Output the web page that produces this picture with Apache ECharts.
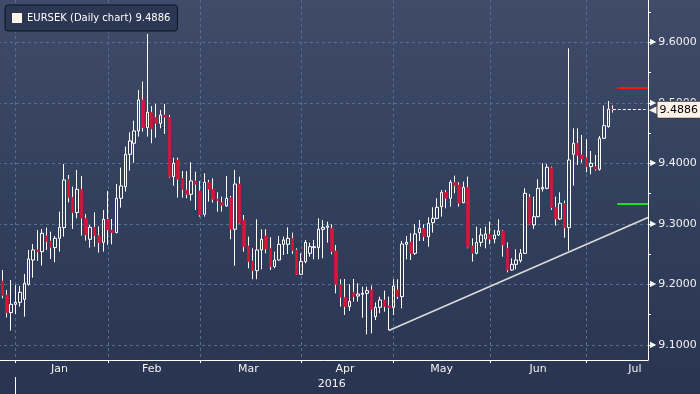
<!DOCTYPE html>
<html><head><meta charset="utf-8">
<script src="https://cdn.jsdelivr.net/npm/echarts@6/dist/echarts.min.js"></script>
<style>html,body{margin:0;padding:0;background:#34405d;}#c{width:700px;height:394px;}</style>
</head><body><div id="c"></div>
<script>
// ---- data ----
const startDate = [2015, 11, 28];      // first category (weekday list)
const numCategories = 149;
const firstCandleIdx = 1;
const seriesName = 'EURSEK';
const legendSuffix = ' (Daily chart) ';

const opens = [9.2055,9.1824,9.1532,9.1669,9.1702,9.1752,9.1999,9.2402,9.2567,9.2540,
9.2799,9.2716,9.2606,9.2760,9.2937,9.3736,9.3438,9.3185,9.3570,9.3091,
9.2744,9.2942,9.2804,9.2694,9.3074,9.2898,9.2854,9.3422,9.3614,9.4149,
9.4331,9.4535,9.5047,9.4590,9.4843,9.4760,9.4661,9.4799,9.4760,9.3780,
9.4055,9.3752,9.3559,9.3488,9.3708,9.3543,9.3157,9.3686,9.3570,9.3411,
9.3350,9.3295,9.3432,9.2909,9.3658,9.3063,9.2634,9.2386,9.2226,9.2567,
9.2799,9.2595,9.2292,9.2402,9.2661,9.2661,9.2760,9.2567,9.2165,9.2375,
9.2512,9.2606,9.2606,9.2909,9.2942,9.2926,9.2551,9.1998,9.1785,9.1631,
9.1868,9.1807,9.1835,9.1851,9.1906,9.1465,9.1620,9.1741,9.1642,9.1620,
9.1906,9.1796,9.2661,9.2700,9.2512,9.2854,9.2926,9.2788,9.3019,9.3091,
9.3284,9.3521,9.3422,9.3686,9.3642,9.3350,9.3603,9.2634,9.2512,9.2694,
9.2749,9.2832,9.2749,9.2815,9.2882,9.2595,9.2237,9.2330,9.2391,9.2512,
9.3438,9.2981,9.3118,9.3576,9.3587,9.3928,9.3273,9.3080,9.3339,9.2937,
9.4149,9.4331,9.4138,9.4094,9.3945,9.3945,9.3901,9.4413,9.4606,9.4895];
const closes = [9.1813,9.1532,9.1669,9.1702,9.1868,9.2016,9.2419,9.2567,9.2540,9.2843,
9.2705,9.2606,9.2760,9.2942,9.3725,9.3433,9.3185,9.3570,9.3091,9.2816,
9.2942,9.2804,9.2689,9.3074,9.2898,9.2854,9.3422,9.3625,9.4149,9.4369,
9.4535,9.5047,9.4590,9.4843,9.4568,9.4661,9.4799,9.4760,9.3780,9.4000,
9.3736,9.3570,9.3488,9.3708,9.3653,9.3146,9.3686,9.3570,9.3405,9.3383,
9.3306,9.3421,9.2909,9.3658,9.3008,9.2622,9.2375,9.2226,9.2567,9.2744,
9.2584,9.2292,9.2402,9.2661,9.2733,9.2760,9.2556,9.2165,9.2375,9.2694,
9.2622,9.2622,9.2909,9.2942,9.2964,9.2540,9.1998,9.1785,9.1631,9.1719,
9.1796,9.1840,9.1851,9.1895,9.1587,9.1620,9.1741,9.1631,9.1620,9.1972,
9.1796,9.2667,9.2694,9.2512,9.2832,9.2926,9.2788,9.3008,9.3091,9.3273,
9.3521,9.3422,9.3686,9.3631,9.3339,9.3603,9.2612,9.2512,9.2694,9.2815,
9.2832,9.2749,9.2815,9.2882,9.2650,9.2237,9.2330,9.2402,9.2512,9.3504,
9.2992,9.3118,9.3587,9.3603,9.3934,9.3267,9.3080,9.3339,9.2937,9.4055,
9.4331,9.4127,9.4072,9.3945,9.4000,9.3901,9.4413,9.4623,9.4895,9.4886];
const lows = [9.1768,9.1454,9.1234,9.1509,9.1631,9.1465,9.1978,9.2110,9.2386,9.2308,
9.2567,9.2419,9.2364,9.2540,9.2788,9.3355,9.2915,9.3091,9.2804,9.2722,
9.2606,9.2623,9.2523,9.2540,9.2650,9.2661,9.2843,9.3267,9.3532,9.3879,
9.4011,9.4441,9.4523,9.4441,9.4331,9.4424,9.4579,9.4485,9.3764,9.3631,
9.3433,9.3433,9.3422,9.3383,9.3229,9.3118,9.3118,9.3366,9.3350,9.3201,
9.3201,9.3284,9.2744,9.2308,9.2997,9.2540,9.2264,9.2083,9.2083,9.2248,
9.2512,9.2237,9.2264,9.2391,9.2485,9.2501,9.2501,9.2154,9.2154,9.2347,
9.2457,9.2413,9.2413,9.2430,9.2689,9.2496,9.1851,9.1631,9.1493,9.1559,
9.1713,9.1713,9.1449,9.1173,9.1190,9.1410,9.1521,9.1548,9.1240,9.1493,
9.1758,9.1603,9.2413,9.2402,9.2485,9.2716,9.2716,9.2622,9.2854,9.3074,
9.3118,9.3256,9.3284,9.3504,9.3284,9.3339,9.2595,9.2375,9.2496,9.2623,
9.2595,9.2661,9.2678,9.2799,9.2457,9.2198,9.2226,9.2248,9.2358,9.2501,
9.2981,9.2915,9.3107,9.3532,9.3570,9.3229,9.2970,9.3063,9.2771,9.2556,
9.3631,9.3973,9.4011,9.3851,9.3818,9.3879,9.3879,9.4402,9.4590,9.4838];
const highs = [9.2237,9.1906,9.2071,9.1989,9.1972,9.2171,9.2567,9.2667,9.2898,9.2915,
9.2937,9.2870,9.2799,9.3201,9.3989,9.3807,9.3614,9.3890,9.3791,9.3162,
9.2981,9.3190,9.2958,9.3229,9.3543,9.3080,9.3659,9.3928,9.4276,9.4512,
9.4705,9.5212,9.5350,9.6138,9.4948,9.4981,9.4882,9.4981,9.4799,9.4094,
9.4094,9.3873,9.3873,9.4017,9.3862,9.3708,9.3835,9.3725,9.3752,9.3521,
9.3449,9.3791,9.3460,9.3890,9.3780,9.3146,9.2788,9.2595,9.3074,9.2909,
9.2909,9.2777,9.2540,9.2799,9.2788,9.2942,9.2854,9.2595,9.2512,9.2733,
9.2689,9.2733,9.3091,9.3063,9.3036,9.2992,9.2650,9.2083,9.2088,9.2000,
9.2088,9.2016,9.1961,9.1961,9.1978,9.1702,9.1796,9.1895,9.1796,9.2083,
9.2083,9.2716,9.2799,9.2843,9.2992,9.3063,9.2992,9.3107,9.3273,9.3422,
9.3559,9.3559,9.3725,9.3796,9.3686,9.3697,9.3780,9.2760,9.2953,9.2926,
9.2953,9.3036,9.2898,9.3074,9.2898,9.2694,9.2430,9.2578,9.2584,9.3587,
9.3493,9.3449,9.3736,9.4000,9.3989,9.3945,9.3449,9.3521,9.3383,9.5901,
9.4579,9.4579,9.4468,9.4397,9.4204,9.4138,9.4452,9.4953,9.5030,9.4957];

// axis ticks / labels
const monthStartIdx = [4, 25, 46, 69, 90, 112, 134];
const monthLabelIdx = [14, 35, 57, 79, 101, 123, 145];
const monthNames = ['Jan', 'Feb', 'Mar', 'Apr', 'May', 'Jun', 'Jul'];
const yearTickIdx = 4;
const yearLabelIdx = 76;
const yearLabel = '2016';
const yMin = 9.0749, yMax = 9.6699;

// annotations
const trendIdx = [89, 148];
const trendPrice = [9.1236, 9.3104];
const levelStartIdx = 141;
const resistanceLevel = 9.525;
const supportLevel = 9.333;

// ---- build ----
const dates = [];
(function () {
  const d = new Date(Date.UTC(startDate[0], startDate[1], startDate[2]));
  while (dates.length < numCategories) {
    const w = d.getUTCDay();
    if (w !== 0 && w !== 6) dates.push(d.toISOString().slice(0, 10));
    d.setUTCDate(d.getUTCDate() + 1);
  }
})();
const EMPTY = ['-', '-', '-', '-'];
const upData = [], downData = [], downBody = [];
for (let i = 0; i < dates.length; i++) {
  const k = i - firstCandleIdx;
  if (k < 0 || k >= opens.length) { upData.push(EMPTY); downData.push(EMPTY); downBody.push(EMPTY); continue; }
  const o = opens[k], c = closes[k], l = lows[k], h = highs[k];
  if (c > o) { upData.push([o, c, l, h]); downData.push(EMPTY); downBody.push(EMPTY); }
  else { upData.push(EMPTY); downData.push([o, c, l, h]); downBody.push([o, c, c, o]); }
}
const lastK = opens.length - 1;
const lastIdx = lastK + firstCandleIdx;
const lastClose = closes[lastK];
const endIdx = dates.length - 1;

const RED = '#dc1438';
const GRID = '#52708e';
const FONT = 'DejaVu Sans';
const isMajor = v => Math.abs(Math.round(v * 10) - v * 10) < 1e-6;

const chart = echarts.init(document.getElementById('c'), null, { renderer: 'canvas' });
chart.setOption({
  animation: false,
  backgroundColor: { type: 'linear', x: 0, y: 0, x2: 0, y2: 1,
    colorStops: [{ offset: 0, color: '#3f4b69' }, { offset: 0.5, color: '#33405d' }, { offset: 1, color: '#293451' }] },
  textStyle: { fontFamily: FONT },
  legend: {
    show: true, left: 5, top: 5, padding: [7, 7, 7, 7], itemWidth: 10, itemHeight: 10,
    selectedMode: false, backgroundColor: '#2c3754', borderColor: '#0d1320', borderWidth: 1, borderRadius: 3,
    data: [{ name: seriesName, icon: 'rect', itemStyle: { color: '#fff3ec', borderWidth: 0 } }],
    formatter: n => n + legendSuffix + lastClose.toFixed(4),
    textStyle: { color: '#ffffff', fontSize: 10, fontFamily: FONT, lineHeight: 12 }
  },
  grid: { left: -2, right: 52, top: 0, bottom: 34, containLabel: false, outerBoundsMode: 'none' },
  xAxis: [{
    type: 'category', data: dates, boundaryGap: false, position: 'bottom',
    axisLine: { show: true, lineStyle: { color: '#ffffff', width: 1 } },
    axisTick: { show: true, interval: i => monthStartIdx.indexOf(i) >= 0, length: 3, lineStyle: { color: '#ffffff' } },
    axisLabel: { show: true, interval: i => monthLabelIdx.indexOf(i) >= 0,
      formatter: (v, i) => monthNames[monthLabelIdx.indexOf(i)] || '',
      color: '#f2f2f2', fontSize: 11, margin: 4, fontFamily: FONT },
    splitLine: { show: true, interval: i => monthStartIdx.indexOf(i) >= 0,
      lineStyle: { color: GRID, type: [3, 3], width: 1 } }
  }, {
    type: 'category', data: dates, boundaryGap: false, position: 'bottom', offset: 17,
    axisLine: { show: false },
    axisTick: { show: true, interval: i => i === yearTickIdx, length: 17, lineStyle: { color: '#ffffff' } },
    axisLabel: { show: true, interval: i => i === yearLabelIdx, formatter: () => yearLabel,
      color: '#f2f2f2', fontSize: 11, margin: 2, fontFamily: FONT },
    splitLine: { show: false }
  }],
  yAxis: [{
    type: 'value', position: 'right', min: yMin, max: yMax, minInterval: 0.05, maxInterval: 0.05,
    axisLine: { show: true, lineStyle: { color: '#ffffff', width: 1 } },
    axisTick: { show: true, length: 3, lineStyle: { color: '#ffffff' } },
    splitLine: { show: false },
    axisLabel: { show: true, margin: 2, color: '#f2f2f2', fontSize: 11, fontFamily: FONT,
      showMinLabel: false, showMaxLabel: false,
      formatter: v => isMajor(v) ? '{t|\u25B6}' + v.toFixed(4) : '',
      rich: { t: { fontSize: 8, color: '#ffffff', padding: [0, 2, 0, 0] } } }
  }, {
    type: 'value', position: 'right', min: yMin, max: yMax, minInterval: 0.1, maxInterval: 0.1,
    axisLine: { show: false }, axisTick: { show: false }, axisLabel: { show: false },
    splitLine: { show: true, showMinLine: false, showMaxLine: false,
      lineStyle: { color: GRID, type: [3, 3], width: 1 } }
  }],
  series: [{
    name: seriesName, type: 'candlestick', data: upData, barWidth: 3, silent: true,
    itemStyle: { color: 'transparent', color0: 'transparent', borderColor: '#ffffff', borderColor0: '#ffffff', borderWidth: 1 }
  }, {
    name: 'down-wick', type: 'candlestick', data: downData, barWidth: 1, silent: true,
    itemStyle: { color: '#ffffff', color0: '#ffffff', borderColor: '#ffffff', borderColor0: '#ffffff', borderWidth: 1 }
  }, {
    name: 'down-body', type: 'candlestick', data: downBody, barWidth: 3, silent: true,
    itemStyle: { color: RED, color0: RED, borderColor: RED, borderColor0: RED, borderWidth: 0.6 }
  }, {
    name: 'trend', type: 'line', silent: true, clip: false, symbol: 'none', z: 3,
    data: [[dates[trendIdx[0]], trendPrice[0]], [dates[trendIdx[1]], trendPrice[1]]],
    lineStyle: { color: '#dadada', width: 1.7 },
    markLine: {
      silent: true, animation: false, symbol: ['none', 'none'], label: { show: false },
      data: [
        [{ coord: [dates[lastIdx], lastClose], lineStyle: { color: '#ffffff', type: [3, 2], width: 1 },
           label: { show: true, position: 'end', distance: 1,
             formatter: '{a|\u25C0}{b|' + lastClose.toFixed(4) + '}',
             rich: { a: { color: '#fdf2ea', fontSize: 11 },
                     b: { backgroundColor: '#fdf2ea', color: '#000000', fontSize: 11, fontFamily: FONT,
                          padding: [3, 3, 2, 2], borderColor: '#3a3a3a', borderWidth: 1, borderRadius: 1 } } } },
         { coord: [dates[endIdx], lastClose] }],
        [{ coord: [dates[levelStartIdx], resistanceLevel], lineStyle: { color: '#ff1414', width: 2, type: 'solid' } },
         { coord: [dates[endIdx], resistanceLevel] }],
        [{ coord: [dates[levelStartIdx], supportLevel], lineStyle: { color: '#1fe01f', width: 2, type: 'solid' } },
         { coord: [dates[endIdx], supportLevel] }]
      ]
    }
  }]
});
</script>
</body></html>
